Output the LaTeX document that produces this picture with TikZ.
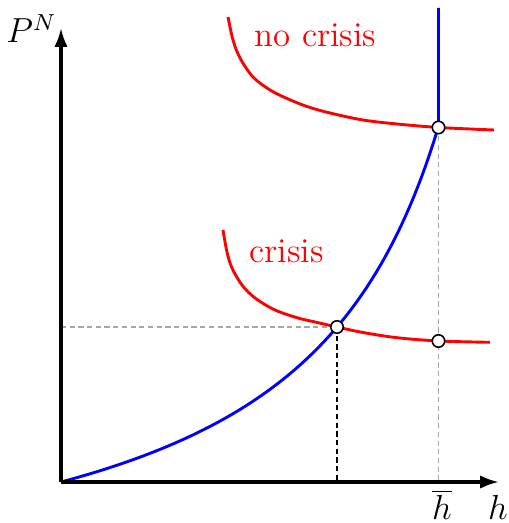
\documentclass[tikz,border=0pt]{standalone}
\usetikzlibrary{arrows.meta}
\begin{document}
\begin{tikzpicture}[x=0.345pt,y=-0.345pt,font=\large,
  axis/.style={line width=1.1pt,-{Latex[length=6.5pt,width=4.6pt]}},
  curve/.style={line width=1pt},
  guide/.style={line width=0.4pt,dash pattern=on 1.8pt off 1.2pt},
  dot/.style={circle,draw=black,fill=white,line width=0.55pt,minimum size=4.3pt,inner sep=0pt},
  lab/.style={anchor=base,inner sep=0pt}]
\useasboundingbox (0,0) rectangle (508,523);
% key points
\coordinate (O) at (61,482);
\coordinate (xend) at (499,482);
\coordinate (yend) at (61,28);
\coordinate (yc) at (61,327);
\coordinate (xc) at (337,482);
\coordinate (xb) at (438.5,482);
\coordinate (top) at (438.5,8);
% guides
\draw[guide,gray!70] (yc) -- (337,327);
\draw[guide,black] (337,327) -- (xc);
\draw[guide,gray!70] (438.5,127.5) -- (xb);
% red curves
\draw[curve,red] plot[smooth,tension=0.55] coordinates {(228,17) (233,40) (240,58) (253,77) (270,90) (287,98.5) (307,106.5) (330,113) (363,120) (397,124) (439,127.5) (494,130)};
\draw[curve,red] plot[smooth,tension=0.55] coordinates {(223,230) (227,252) (232,268) (242,285) (255,298) (275,310) (298,318) (315,322) (337,327) (363,332.5) (397,337.7) (439,341) (490,342.3)};
% blue curve
\draw[curve,blue] plot[domain=0:377.5,samples=80] ({61+\x},{482-141.1*(\x/(527.3-\x))}) -- (top);
% axes
\draw[axis] (O) -- (xend);
\draw[axis] (O) -- (yend);
% points
\node[dot] (c1) at (337,327) {};
\node[dot] (c2) at (438.5,341) {};
\node[dot] (c3) at (438.5,127.5) {};
% labels
\node[lab,red] (nc) at (315.5,46.7) {no crisis};
\node[lab,red] (cr) at (286.5,262.7) {crisis};
\node[lab] (py) at (31.5,42.7) {$P^N$};
\node[lab] (hb) at (442,519.5) {$\overline{h}$};
\node[lab] (hx) at (498,519.5) {$h$};
\end{tikzpicture}
\end{document}
